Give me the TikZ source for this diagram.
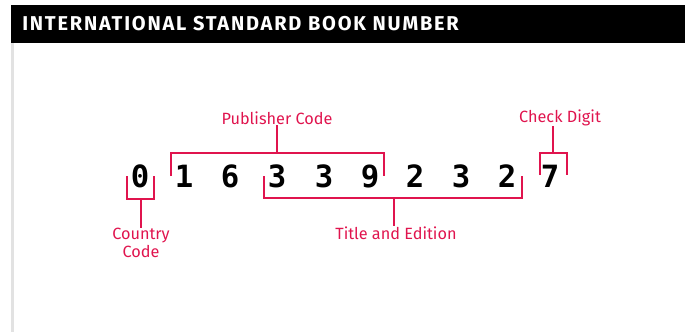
\documentclass[tikz,border=0pt]{standalone}
\usepackage{fontspec}
\setmainfont{Fira Sans}
\newfontfamily\digitfont{DejaVu Sans Mono Bold}
\newfontfamily\headfont[LetterSpace=9]{Fira Sans Bold}
\usetikzlibrary{positioning,calc}
\definecolor{isbnred}{HTML}{E0144E}
\definecolor{barGray}{HTML}{E2E2E2}
\begin{document}
\begin{tikzpicture}[x=0.75pt,y=-0.75pt,
  lbl/.style={text=isbnred,font=\fontsize{12.2}{14.5}\selectfont,inner sep=0pt,align=center},
  digit/.style={font=\digitfont\fontsize{23}{24}\selectfont,inner sep=0pt,anchor=base},
  brk/.style={draw=isbnred,line width=1.3pt}]
  \useasboundingbox (0,0) rectangle (685,332);
  % header band and side rule
  \fill[black] (11,5) rectangle (685,43);
  \fill[barGray] (11,43) rectangle (14,332);
  \node[anchor=base west,text=white,font=\headfont\fontsize{15}{17}\selectfont,inner sep=0pt] (title) at (22,30) {INTERNATIONAL STANDARD BOOK NUMBER};
  % the digits
  \node[digit] (d0) at (140,187) {0};
  \node[digit] (d1) at (184,187) {1};
  \node[digit] (d2) at (230,187) {6};
  \node[digit] (d3) at (277,187) {3};
  \node[digit] (d4) at (324,187) {3};
  \node[digit] (d5) at (370,187) {9};
  \node[digit] (d6) at (415,187) {2};
  \node[digit] (d7) at (461,187) {3};
  \node[digit] (d8) at (507,187) {2};
  \node[digit] (d9) at (550,187) {7};
  % labels
  \node[lbl] (country) at (141,243) {Country\\[-1pt]Code};
  \node[lbl] (publisher) at (277,118) {Publisher Code};
  \node[lbl] (titled) at (396,233) {Title and Edition};
  \node[lbl] (check) at (560,118) {Check Digit};
  % brackets
  \coordinate (cc) at (141,199);
  \coordinate (pc) at (277,153);
  \coordinate (tc) at (394,198);
  \coordinate (kc) at (553,153);
  \draw[brk] (127,176) |- (cc) -| (154,176);
  \draw[brk] (171,176) |- (pc) -| (384,176);
  \draw[brk] (264,176) |- (tc) -| (522,176);
  \draw[brk] (540,175) |- (kc) -| (567,175);
  \draw[brk] (cc) -- (cc |- country.north);
  \draw[brk] (pc) -- (pc |- publisher.south);
  \draw[brk] (tc) -- (tc |- titled.north);
  \draw[brk] (kc) -- (kc |- check.south);
\end{tikzpicture}
\end{document}
